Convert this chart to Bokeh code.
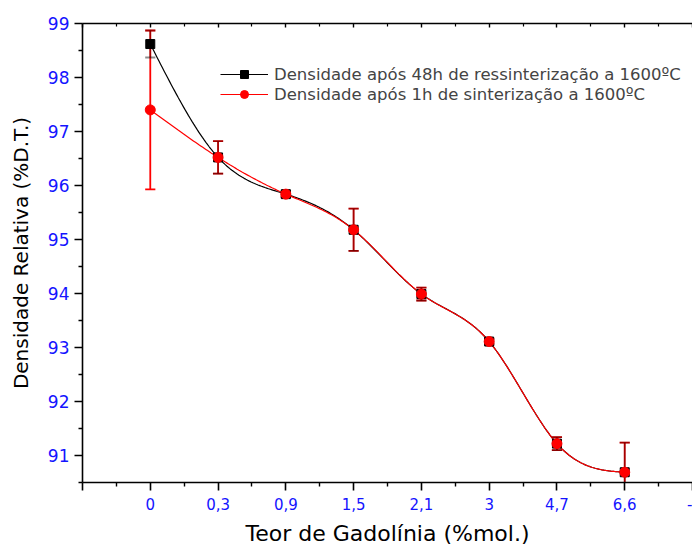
import numpy as np
from bokeh.plotting import figure
from bokeh.models import (ColumnDataSource, FixedTicker, LinearAxis, Range1d,
                          Legend, LegendItem)
from bokeh.embed import file_html
from bokeh.resources import INLINE

# ---------------- data ----------------
x_labels = ["0", "0,3", "0,9", "1,5", "2,1", "3", "4,7", "6,6"]
x_pos = [0, 1, 2, 3, 4, 5, 6, 7]
red_y = [97.40, 96.52, 95.84, 95.18, 93.99, 93.11, 91.22, 90.69]
red_err = [1.47, 0.30, 0.05, 0.39, 0.12, 0.05, 0.12, 0.55]
black_y = [98.62, 96.52, 95.84, 95.18, 93.99, 93.11, 91.22, 90.69]
black_err = [0.25, 0.30, 0.05, 0.39, 0.12, 0.05, 0.12, 0.55]
y_ticks = [91, 92, 93, 94, 95, 96, 97, 98, 99]
label_black = "Densidade após 48h de ressinterização a 1600ºC"
label_red = "Densidade após 1h de sinterização a 1600ºC"


def natural_spline(xs, ys, n=40):
    xs = np.asarray(xs, float)
    ys = np.asarray(ys, float)
    k = len(xs)
    h = np.diff(xs)
    A = np.zeros((k, k))
    b = np.zeros(k)
    A[0, 0] = 1
    A[-1, -1] = 1
    for i in range(1, k - 1):
        A[i, i - 1] = h[i - 1]
        A[i, i] = 2 * (h[i - 1] + h[i])
        A[i, i + 1] = h[i]
        b[i] = 6 * ((ys[i + 1] - ys[i]) / h[i] - (ys[i] - ys[i - 1]) / h[i - 1])
    M = np.linalg.solve(A, b)
    outx, outy = [], []
    for i in range(k - 1):
        t = np.linspace(xs[i], xs[i + 1], n)
        a = xs[i + 1] - t
        c = t - xs[i]
        yy = (M[i] * a ** 3 / (6 * h[i]) + M[i + 1] * c ** 3 / (6 * h[i])
              + (ys[i] / h[i] - M[i] * h[i] / 6) * a
              + (ys[i + 1] / h[i] - M[i + 1] * h[i] / 6) * c)
        outx.extend(t.tolist())
        outy.extend(yy.tolist())
    return outx, outy


FONT = "DejaVu Sans"
BLUE = "#1414ff"

p = figure(width=692, height=549, output_backend="svg", toolbar_location=None,
           x_range=Range1d(-1, 8), y_range=Range1d(90.5, 99),
           min_border_left=82, min_border_right=0, min_border_top=23,
           min_border_bottom=67)
p.outline_line_color = None
p.xgrid.visible = False
p.ygrid.visible = False
p.background_fill_color = "white"
p.border_fill_color = "white"

# curves
bx, by = natural_spline(x_pos, black_y)
rx, ry = natural_spline(x_pos, red_y)
bl = p.line(bx, by, line_color="black", line_width=1.2)
rl = p.line(rx, ry, line_color="red", line_width=1.2)

# error bars
cap = 0.075
def err_source(y, e):
    lo = [a - b for a, b in zip(y, e)]
    hi = [a + b for a, b in zip(y, e)]
    return ColumnDataSource(dict(
        x=x_pos, lo=lo, hi=hi,
        xl=[v - cap for v in x_pos], xr=[v + cap for v in x_pos]))

rs = err_source(red_y, red_err)
p.segment("x", "lo", "x", "hi", source=rs, line_color="red", line_width=1.8)
p.segment("xl", "lo", "xr", "lo", source=rs, line_color="red", line_width=1.8)
p.segment("xl", "hi", "xr", "hi", source=rs, line_color="red", line_width=1.8)
ks = err_source(black_y, black_err)
p.segment("x", "lo", "x", "hi", source=ks, line_color="black", line_width=1.8, line_alpha=0.35)
p.segment("xl", "lo", "xr", "lo", source=ks, line_color="black", line_width=1.8, line_alpha=0.45)
p.segment("xl", "hi", "xr", "hi", source=ks, line_color="black", line_width=1.8, line_alpha=0.35)

# markers
bm = p.scatter(x_pos, black_y, marker="square", size=9, fill_color="black",
               line_color="black")
rm = p.scatter(x_pos, red_y, marker="circle", size=10, fill_color="red",
               line_color="red")

# axes
xt = FixedTicker(ticks=list(range(-1, 9)),
                 minor_ticks=[v + 0.5 for v in range(-1, 8)])
yt = FixedTicker(ticks=y_ticks, minor_ticks=[v + 0.5 for v in range(90, 99)])

xa = p.xaxis[0]
xa.ticker = xt
overrides = {-1: ""}
for pos, lab in zip(x_pos, x_labels):
    overrides[pos] = lab
overrides[8] = "-"
xa.major_label_overrides = overrides
xa.axis_label = "Teor de Gadolínia (%mol.)"

ya = p.yaxis[0]
ya.ticker = yt
ya.axis_label = "Densidade Relativa (%D.T.)"

for ax in (xa, ya):
    ax.axis_line_width = 1.6
    ax.major_tick_line_width = 1.6
    ax.minor_tick_line_width = 1.4
    ax.major_tick_in = 0
    ax.minor_tick_in = 0
    ax.major_tick_out = 8
    ax.minor_tick_out = 4
    ax.major_label_text_font = FONT
    ax.major_label_text_color = BLUE
    ax.axis_label_text_font = FONT
    ax.axis_label_text_font_style = "normal"
    ax.axis_label_text_color = "black"

xa.major_label_text_font_size = "15px"
ya.major_label_text_font_size = "17px"
xa.major_label_standoff = 7
ya.major_label_standoff = 5
xa.axis_label_text_font_size = "22px"
ya.axis_label_text_font_size = "20px"
xa.axis_label_standoff = 8
ya.axis_label_standoff = 12

top = LinearAxis(ticker=xt, major_label_text_font_size="0px",
                 axis_line_width=1.6, major_tick_in=4, major_tick_out=0,
                 minor_tick_in=3, minor_tick_out=0,
                 major_tick_line_width=1.4, minor_tick_line_width=1.2)
top.major_label_text_color = None
p.add_layout(top, "above")

legend = Legend(items=[LegendItem(label=label_black, renderers=[bl, bm]),
                       LegendItem(label=label_red, renderers=[rl, rm])],
                location=(138, 378))
legend.margin = 0
legend.padding = 0
legend.spacing = 0
legend.glyph_width = 48
legend.glyph_height = 20
legend.label_height = 20
legend.label_standoff = 6
legend.label_text_font = FONT
legend.label_text_font_size = "16.5px"
legend.background_fill_alpha = 0
legend.border_line_color = None
p.add_layout(legend)

open("out.html", "w").write(file_html(p, INLINE))
